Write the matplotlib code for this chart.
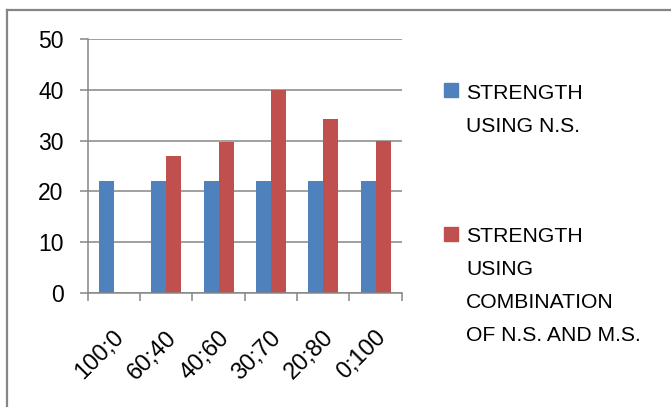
import matplotlib
matplotlib.use("Agg")
import matplotlib.pyplot as plt
from matplotlib.lines import Line2D
from matplotlib.patches import Rectangle
import matplotlib.transforms as mtransforms
import numpy as np

plt.rcParams['font.family'] = ['Liberation Sans', 'DejaVu Sans']

categories = ["100;0", "60;40", "40;60", "30;70", "20;80", "0;100"]
strength_ns = [22, 22, 22, 22, 22, 22]
strength_comb = [0, 27, 29.7, 40, 34.3, 30]
series_names = ["STRENGTH\nUSING N.S.", "STRENGTH\nUSING\nCOMBINATION\nOF N.S. AND M.S."]
yticks = [0, 10, 20, 30, 40, 50]

W, H = 671, 407
fig = plt.figure(figsize=(W / 100, H / 100), dpi=100)
ax = fig.add_axes([87.7 / W, 1 - 292.7 / H, (401.7 - 87.7) / W, (292.7 - 39.3) / H])

blue = "#4F81BD"
red = "#C0504D"
gray = "#868686"
x = np.arange(len(categories))
w = 0.287
ax.bar(x - w / 2, strength_ns, w, color=blue, zorder=3)
ax.bar(x + w / 2, strength_comb, w, color=red, zorder=3)

ax.set_xlim(-0.5, len(categories) - 0.5)
ax.set_ylim(0, 50)
ax.set_yticks(yticks)
ax.set_yticklabels([str(v) for v in yticks], fontsize=16.5)
ax.yaxis.grid(True, color=gray, linewidth=1.1, zorder=0)
ax.set_axisbelow(True)

for s in ["top", "right"]:
    ax.spines[s].set_visible(False)
for s in ["left", "bottom"]:
    ax.spines[s].set_color(gray)
    ax.spines[s].set_linewidth(1.1)
    ax.spines[s].set_zorder(4)

ax.tick_params(axis='y', length=5.5, width=1.1, color=gray, pad=12)
ax.set_xticks(np.arange(-0.5, len(categories), 1.0))
ax.set_xticklabels([])
ax.tick_params(axis='x', length=5.5, width=1.1, color=gray)
ax.set_xticks(x, minor=True)
ax.set_xticklabels(categories, minor=True, rotation=45, ha='right', va='center',
                   rotation_mode='anchor', fontsize=17)
ax.tick_params(axis='x', which='minor', length=0, pad=30)
offset = mtransforms.ScaledTranslation(7 / 100, 0, fig.dpi_scale_trans)
for lbl in ax.get_xticklabels(minor=True):
    lbl.set_transform(lbl.get_transform() + offset)

# legend drawn manually
legend_items = [(blue, series_names[0], 83, 99), (red, series_names[1], 227, 242)]
line_step = 33
for color, name, ytop, base in legend_items:
    fig.patches.append(Rectangle((444 / W, 1 - (ytop + 14) / H), 14 / W, 14 / H,
                                 transform=fig.transFigure, color=color))
    for k, line in enumerate(name.split("\n")):
        fig.text(466 / W, 1 - (base + k * line_step) / H, line, fontsize=15.2,
                 va='baseline', ha='left')

# outer chart border (top and left visible)
fig.lines.append(Line2D([7 / W, 1], [1 - 10 / H, 1 - 10 / H], transform=fig.transFigure,
                        color=gray, linewidth=1.6))
fig.lines.append(Line2D([7 / W, 7 / W], [0, 1 - 10 / H], transform=fig.transFigure,
                        color=gray, linewidth=1.6))

fig.savefig("out.png", dpi=100)
